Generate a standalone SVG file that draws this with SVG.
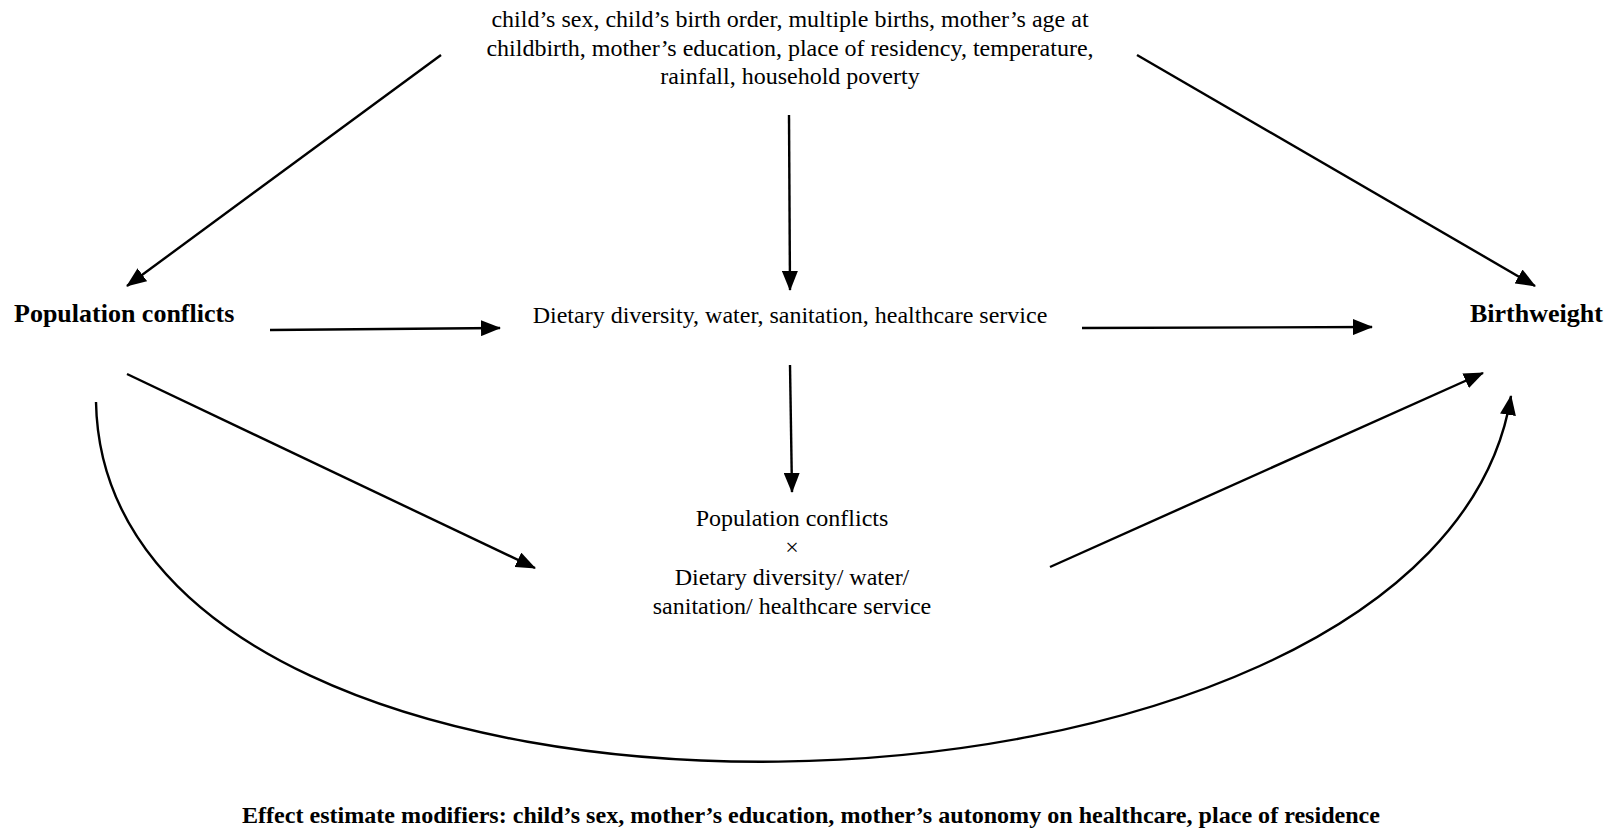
<svg xmlns="http://www.w3.org/2000/svg" width="1615" height="832" viewBox="0 0 1615 832">
<style>
text{font-family:"Liberation Serif","Times New Roman",serif;fill:#000}
.r{font-size:24px}
.b{font-size:26px;font-weight:bold}
.m{text-anchor:middle}
.c{fill:none;stroke:#000;stroke-width:2.4}
</style>
<defs>
<marker id="ah" markerUnits="userSpaceOnUse" markerWidth="20" markerHeight="16" refX="19" refY="8" orient="auto" viewBox="0 0 20 16">
<path d="M0,0 L20,8 L0,16 z" fill="#000"/>
</marker>
</defs>
<rect width="1615" height="832" fill="#fff"/>
<g id="confounders">
<text class="r m" x="790" y="27">child’s sex, child’s birth order, multiple births, mother’s age at</text>
<text class="r m" x="790" y="55.5">childbirth, mother’s education, place of residency, temperature,</text>
<text class="r m" x="790" y="84">rainfall, household poverty</text>
</g>
<g id="population-conflicts">
<text class="b" x="14" y="322">Population conflicts</text>
</g>
<g id="birthweight">
<text class="b" x="1470" y="322">Birthweight</text>
</g>
<g id="mediators">
<text class="r m" x="790" y="322.5">Dietary diversity, water, sanitation, healthcare service</text>
</g>
<g id="interaction">
<text class="r m" x="792" y="525.5">Population conflicts</text>
<text class="r m" x="792" y="555">×</text>
<text class="r m" x="792" y="584.5">Dietary diversity/ water/</text>
<text class="r m" x="792" y="614">sanitation/ healthcare service</text>
</g>
<g id="modifiers">
<text class="b m" x="811" y="823" style="font-size:24px" textLength="1138" lengthAdjust="spacingAndGlyphs">Effect estimate modifiers: child’s sex, mother’s education, mother’s autonomy on healthcare, place of residence</text>
</g>
<g id="connectors">
<path class="c" d="M441,55 L127,286" marker-end="url(#ah)"/>
<path class="c" d="M1137,55 L1535,286" marker-end="url(#ah)"/>
<path class="c" d="M789,115 L790,290" marker-end="url(#ah)"/>
<path class="c" d="M270,330 L500,328" marker-end="url(#ah)"/>
<path class="c" d="M1082,328 L1372,327" marker-end="url(#ah)"/>
<path class="c" d="M127,374 L535,568" marker-end="url(#ah)"/>
<path class="c" d="M790,365 L792,492" marker-end="url(#ah)"/>
<path class="c" d="M1050,567 L1483,373" marker-end="url(#ah)"/>
<path class="c" d="M96,402 C105,895 1435,870 1511,396" marker-end="url(#ah)"/>
</g>
</svg>
